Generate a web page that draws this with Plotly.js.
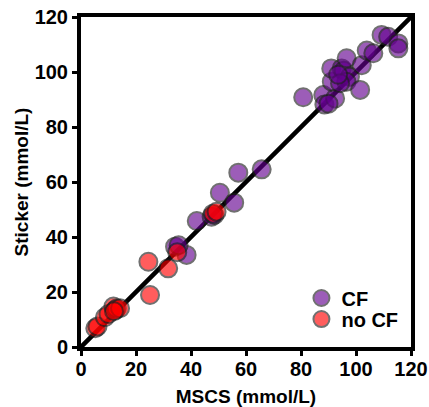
<!DOCTYPE html>
<html>
<head>
<meta charset="utf-8">
<script src="https://cdn.plot.ly/plotly-3.0.1.min.js"></script>
<style>html,body{margin:0;padding:0;background:#fff;}#chart{width:429px;height:407px;}</style>
</head>
<body>
<div id="chart"></div>
<script>
// CF group (MSCS vs Sticker, mmol/L)
var cfX = [34.2, 38.4, 35.5, 42.1, 47.5, 48.5, 50.5, 55.7, 57.2, 65.7, 80.8, 88.1, 88.5, 92.4, 91.2, 91.0, 94.8, 95.5, 96.6, 97.8, 96.5, 94.2, 101.5, 102.1, 103.9, 106.3, 109.3, 111.7, 115.4, 115.4, 90.0, 93.5];
var cfY = [36.5, 33.5, 37.0, 45.8, 47.4, 48.0, 56.1, 52.5, 63.4, 64.6, 90.8, 91.6, 88.2, 90.4, 96.5, 101.3, 101.3, 100.5, 105.0, 98.3, 96.5, 95.9, 93.5, 102.5, 107.8, 106.8, 113.5, 112.8, 110.4, 108.6, 88.5, 99.0];
// no CF group
var noCfX = [5.2, 6.0, 8.7, 10.0, 11.8, 12.5, 13.0, 14.2, 12.0, 24.5, 25.1, 31.7, 35.0, 48.0, 49.3];
var noCfY = [6.8, 7.5, 10.8, 12.0, 14.7, 13.5, 14.0, 14.1, 13.0, 31.0, 18.9, 28.6, 34.5, 48.5, 49.2];
// identity line
var identityX = [0, 120];
var identityY = [0, 120];
var tickVals = [0, 20, 40, 60, 80, 100, 120];
var tickText = ['0', '20', '40', '60', '80', '100', '120'];

var fontFam = 'Liberation Sans, Arial, sans-serif';
var legFont = {family: fontFam, size: 20, color: '#000', weight: 'bold'};
var traces = [
  {x: identityX, y: identityY, mode: 'lines', line: {color: '#000', width: 4.5}, showlegend: false, hoverinfo: 'skip'},
  {x: cfX, y: cfY, mode: 'markers', name: 'CF', legend: 'legend',
   marker: {size: 18, color: 'rgb(100,0,143)', opacity: 0.63, line: {color: 'rgb(30,30,30)', width: 2}}},
  {x: noCfX, y: noCfY, mode: 'markers', name: 'no CF', legend: 'legend2',
   marker: {size: 18, color: 'rgb(255,0,0)', opacity: 0.63, line: {color: 'rgb(30,30,30)', width: 2}}}
];
var axisCommon = {
  range: [0, 120], tickvals: tickVals, ticktext: tickText,
  showline: true, linecolor: '#000', linewidth: 4, mirror: true,
  ticks: 'outside', ticklen: 5, tickwidth: 3, tickcolor: '#000',
  showgrid: false, zeroline: false,
  tickfont: {family: fontFam, size: 20, color: '#000', weight: 'bold'}
};
var layout = {
  width: 429, height: 407,
  margin: {l: 81, r: 18, t: 17, b: 60},
  paper_bgcolor: '#fff', plot_bgcolor: '#fff',
  showlegend: true,
  legend: {x: 0.668, y: 0.1485, xanchor: 'left', yanchor: 'middle', bgcolor: 'rgba(0,0,0,0)', font: legFont, itemwidth: 30},
  legend2: {x: 0.668, y: 0.0848, xanchor: 'left', yanchor: 'middle', bgcolor: 'rgba(0,0,0,0)', font: legFont, itemwidth: 30},
  xaxis: Object.assign({}, axisCommon, {ticklabelstandoff: -4, title: {text: 'MSCS (mmol/L)', standoff: 12, font: {family: fontFam, size: 19, color: '#000', weight: 'bold'}}}),
  yaxis: Object.assign({}, axisCommon, {title: {text: 'Sticker (mmol/L)', standoff: 2, font: {family: fontFam, size: 19, color: '#000', weight: 'bold'}}})
};
Plotly.newPlot('chart', traces, layout, {displayModeBar: false, staticPlot: true});
</script>
</body>
</html>
